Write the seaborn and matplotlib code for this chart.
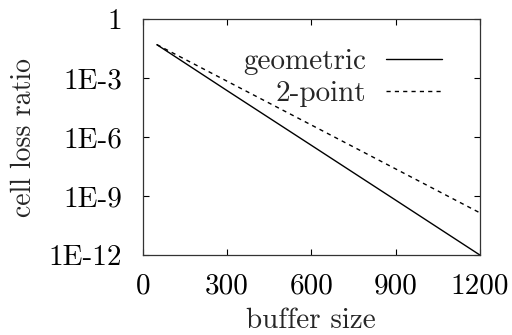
import pandas as pd
import matplotlib
matplotlib.use("Agg")
import matplotlib.pyplot as plt
import seaborn as sns

# values (log-scale y)
buffer_size = [50, 300, 600, 900, 1200]
geometric = [5e-2, 2.3e-4, 3.8e-7, 6.2e-10, 1e-12]
two_point = [5e-2, 6.9e-4, 4.1e-6, 2.4e-8, 1.4e-10]

x_ticks = [0, 300, 600, 900, 1200]
y_ticks = [1, 1e-3, 1e-6, 1e-9, 1e-12]
y_labels = ["1", "1E-3", "1E-6", "1E-9", "1E-12"]

df = pd.DataFrame({
    "buffer size": buffer_size * 2,
    "cell loss ratio": geometric + two_point,
    "model": ["geometric"] * 5 + ["2-point"] * 5,
})

sns.set_style("ticks")
plt.rcParams["font.family"] = ["cmr10", "DejaVu Serif"]
plt.rcParams["axes.unicode_minus"] = False
fs = 21

fig = plt.figure(figsize=(5.12, 3.35), dpi=100)
ax = fig.add_axes([0.279, 0.239, 0.658, 0.704])

sns.lineplot(data=df, x="buffer size", y="cell loss ratio", style="model",
             dashes={"geometric": "", "2-point": (3, 3)}, color="black",
             linewidth=1.0, ax=ax)

ax.set_yscale("log")
ax.set_xlim(0, 1200)
ax.set_ylim(1e-12, 1)
ax.set_xticks(x_ticks)
ax.set_xticklabels([str(v) for v in x_ticks])
ax.set_yticks(y_ticks)
ax.set_yticklabels(y_labels)
ax.minorticks_off()
ax.tick_params(direction="in", length=4, width=0.8, top=True, right=True,
               labelsize=fs, colors="black")
ax.tick_params(axis="x", pad=13)
ax.tick_params(axis="y", pad=15)
for sp in ax.spines.values():
    sp.set_linewidth(0.9)
    sp.set_color("#333333")

ax.set_xlabel("buffer size", fontsize=fs, labelpad=6)
ax.set_ylabel("cell loss ratio", fontsize=20, labelpad=8)

ax.legend(loc="upper right", frameon=False, markerfirst=False,
          handlelength=1.9, handletextpad=0.7, fontsize=fs, borderpad=0,
          borderaxespad=0, labelspacing=0.2, bbox_to_anchor=(0.887, 0.875))

fig.savefig("out.png", dpi=100)
